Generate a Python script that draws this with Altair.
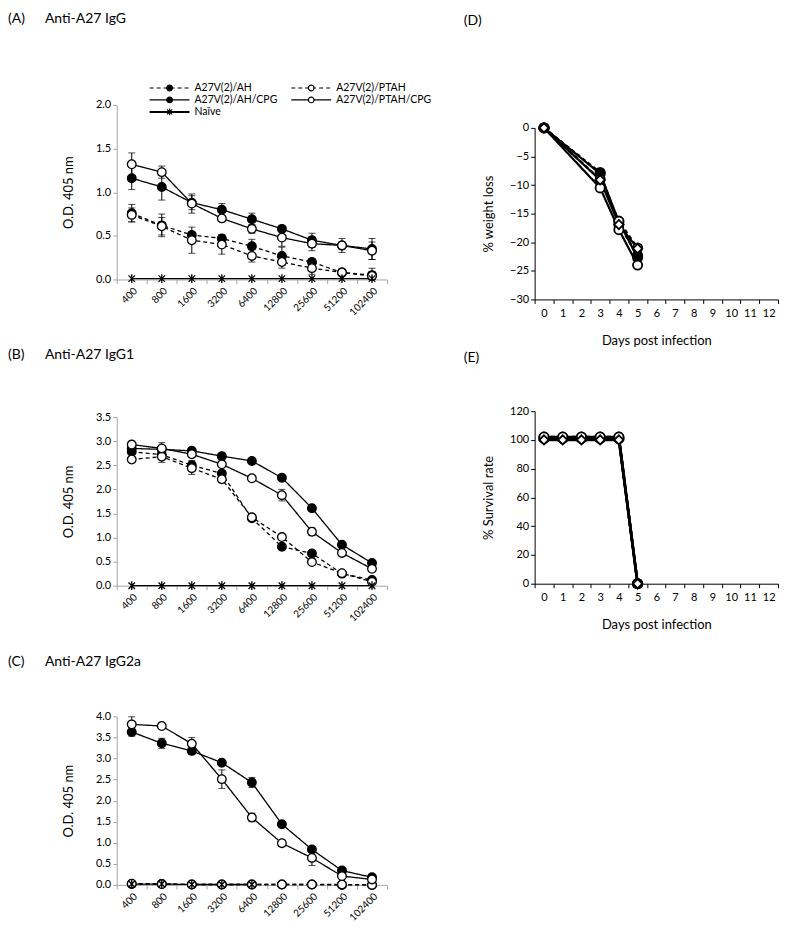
import altair as alt
import pandas as pd

# ---------------- data ----------------
dilutions = ["400", "800", "1600", "3200", "6400", "12800", "25600", "51200", "102400"]
groups = ["A27V(2)/AH", "A27V(2)/AH/CPG", "A27V(2)/PTAH", "A27V(2)/PTAH/CPG", "Naïve"]

# (A) Anti-A27 IgG
igg_ah = [0.76, 0.62, 0.51, 0.47, 0.38, 0.27, 0.20, 0.08, 0.05]
igg_ah_sd = [0.10, 0.13, 0.03, 0.04, 0.08, 0.10, 0.04, 0.03, 0.08]
igg_ahcpg = [1.16, 1.06, 0.88, 0.80, 0.69, 0.58, 0.45, 0.39, 0.35]
igg_ahcpg_sd = [0.13, 0.15, 0.08, 0.07, 0.07, 0.03, 0.08, 0.04, 0.12]
igg_ptah = [0.74, 0.61, 0.45, 0.40, 0.27, 0.20, 0.13, 0.08, 0.04]
igg_ptah_sd = [0.08, 0.10, 0.15, 0.11, 0.07, 0.07, 0.07, 0.04, 0.05]
igg_ptahcpg = [1.32, 1.23, 0.87, 0.70, 0.58, 0.48, 0.41, 0.39, 0.33]
igg_ptahcpg_sd = [0.13, 0.07, 0.11, 0.03, 0.05, 0.10, 0.08, 0.08, 0.10]
igg_naive = [0.01, 0.01, 0.01, 0.01, 0.01, 0.01, 0.01, 0.01, 0.01]
igg_naive_sd = [0, 0, 0, 0, 0, 0, 0, 0, 0]

# (B) Anti-A27 IgG1
igg1_ah = [2.78, 2.72, 2.50, 2.33, 1.40, 0.81, 0.67, 0.25, 0.12]
igg1_ah_sd = [0.05, 0.05, 0.10, 0.05, 0.05, 0.05, 0.05, 0.03, 0.03]
igg1_ahcpg = [2.85, 2.83, 2.80, 2.69, 2.59, 2.24, 1.61, 0.85, 0.47]
igg1_ahcpg_sd = [0.10, 0.08, 0.05, 0.03, 0.03, 0.03, 0.03, 0.04, 0.06]
igg1_ptah = [2.62, 2.68, 2.44, 2.21, 1.42, 1.01, 0.49, 0.26, 0.08]
igg1_ptah_sd = [0.05, 0.12, 0.13, 0.05, 0.05, 0.05, 0.04, 0.04, 0.03]
igg1_ptahcpg = [2.93, 2.85, 2.73, 2.52, 2.23, 1.88, 1.12, 0.68, 0.35]
igg1_ptahcpg_sd = [0.07, 0.12, 0.05, 0.03, 0.03, 0.12, 0.08, 0.04, 0.05]
igg1_naive = [0.0, 0.0, 0.0, 0.0, 0.0, 0.0, 0.0, 0.0, 0.0]
igg1_naive_sd = [0, 0, 0, 0, 0, 0, 0, 0, 0]

# (C) Anti-A27 IgG2a
igg2a_ah = [0.02, 0.02, 0.01, 0.01, 0.01, 0.01, 0.01, 0.0, 0.0]
igg2a_ah_sd = [0, 0, 0, 0, 0, 0, 0, 0, 0]
igg2a_ahcpg = [3.63, 3.36, 3.18, 2.90, 2.43, 1.44, 0.84, 0.34, 0.18]
igg2a_ahcpg_sd = [0.10, 0.12, 0.08, 0.04, 0.12, 0.05, 0.04, 0.03, 0.03]
igg2a_ptah = [0.03, 0.02, 0.01, 0.01, 0.01, 0.01, 0.01, 0.01, 0.0]
igg2a_ptah_sd = [0, 0, 0, 0, 0, 0, 0, 0, 0]
igg2a_ptahcpg = [3.81, 3.77, 3.35, 2.51, 1.60, 0.99, 0.64, 0.21, 0.13]
igg2a_ptahcpg_sd = [0.18, 0.05, 0.15, 0.22, 0.10, 0.07, 0.18, 0.03, 0.03]
igg2a_naive = [0.02, 0.02, 0.01, 0.01, 0.01, None, None, None, None]
igg2a_naive_sd = [0, 0, 0, 0, 0, 0, 0, 0, 0]

# (D) weight loss
day_axis = [0, 1, 2, 3, 4, 5, 6, 7, 8, 9, 10, 11, 12]
weight_days = [0, 3, 4, 5]
w_ah = [0, -7.8, -16.9, -22.3]
w_ahcpg = [0, -8.0, -16.4, -22.7]
w_ptah = [0, -9.0, -16.3, -21.0]
w_ptahcpg = [0, -10.5, -17.8, -24.0]
w_naive = [0, -9.1, -16.9, -21.1]

# (E) survival
surv_days = [0, 1, 2, 3, 4, 5]
s_ah = [101, 101, 101, 101, 101, 0]
s_ahcpg = [101, 101, 101, 101, 101, 0]
s_ptah = [102, 102, 102, 102, 102, 0]
s_ptahcpg = [102, 102, 102, 102, 102, 0]
s_naive = [100, 100, 100, 100, 100, 0]

panel_letters = ["(A)", "(B)", "(C)", "(D)", "(E)"]
panel_names = ["Anti-A27 IgG", "Anti-A27 IgG1", "Anti-A27 IgG2a"]

# ---------------- styles ----------------
FONT = "Lato"
GRAY = "#A6A6A6"
STAR = "M0,-1L0,1M-0.75,-0.75L0.75,0.75M-0.75,0.75L0.75,-0.75"
PW = 271
DW = 244

shape_scale = alt.Scale(domain=groups, range=["circle", "circle", "circle", "circle", STAR])
fill_scale = alt.Scale(domain=groups, range=["black", "black", "white", "white", "black"])
dash_scale = alt.Scale(domain=groups, range=[[4, 3], [1, 0], [4, 3], [1, 0], [1, 0]])
width_scale = alt.Scale(domain=groups, range=[1.3, 1.3, 1.3, 1.3, 2.2])

shape_scale_d = alt.Scale(domain=groups, range=["circle", "circle", "circle", "circle", "diamond"])
fill_scale_d = alt.Scale(domain=groups, range=["black", "black", "white", "white", "white"])
dash_scale_d = alt.Scale(domain=groups, range=[[4, 3], [1, 0], [4, 3], [1, 0], [1, 0]])


def label_layer(text, x, y, size=14):
    return alt.Chart(pd.DataFrame({"t": [text]})).mark_text(
        align="left", baseline="middle", font=FONT, fontSize=size, color="black"
    ).encode(x=alt.value(x), y=alt.value(y), text="t:N")


def elisa_panel(series, sds, ymax, yvals, height, top, letter, name, title_y, legend=False):
    rows = []
    for g in groups:
        for i, (d, v, s) in enumerate(zip(dilutions, series[g], sds[g])):
            if v is None:
                continue
            rows.append({"i": i, "dil": d, "group": g, "value": v, "sd": s,
                         "lo": max(v - s, 0), "hi": v + s})
    df = pd.DataFrame(rows)
    xenc = alt.X("dil:O",
                 scale=alt.Scale(type="band", domain=dilutions, paddingInner=0, paddingOuter=0),
                 axis=alt.Axis(title=None, labelAngle=-45, labelFontSize=10, labelOverlap=False,
                               tickBand="extent", domainColor=GRAY, tickColor=GRAY, tickSize=4,
                               labelPadding=2, labelColor="#000000", labelFont=FONT))
    ysc = alt.Scale(domain=[0, ymax], range=[height, top], nice=False)
    yax = alt.Axis(title="O.D. 405 nm", values=yvals, format=".1f", labelFontSize=11,
                   titleFontSize=13, titleFontWeight="normal", domainColor=GRAY, tickColor=GRAY,
                   tickSize=4, titlePadding=20, labelColor="#000000", titleColor="#000000",
                   labelFont=FONT, titleFont=FONT)

    def Y(f):
        return alt.Y(f"{f}:Q", scale=ysc, axis=yax)

    base = alt.Chart(df)
    err = base.transform_filter("datum.sd > 0").mark_rule(color="black", strokeWidth=1).encode(
        x=xenc, y=Y("lo"), y2="hi:Q")
    cap_hi = base.transform_filter("datum.sd > 0").mark_tick(color="black", thickness=1, size=7).encode(
        x=xenc, y=Y("hi"))
    cap_lo = base.transform_filter("datum.sd > 0").mark_tick(color="black", thickness=1, size=7).encode(
        x=xenc, y=Y("lo"))
    line = base.mark_line(color="black").encode(
        x=xenc, y=Y("value"), detail="group:N", order="i:Q",
        strokeDash=alt.StrokeDash("group:N", scale=dash_scale, legend=None),
        strokeWidth=alt.StrokeWidth("group:N", scale=width_scale, legend=None))
    pts = base.mark_point(filled=True, stroke="black", strokeWidth=1.3, size=75, opacity=1).encode(
        x=xenc, y=Y("value"),
        shape=alt.Shape("group:N", scale=shape_scale, legend=None),
        fill=alt.Fill("group:N", scale=fill_scale, legend=None))
    layers = [err, cap_hi, cap_lo, line, pts,
              label_layer(letter, -109, title_y),
              label_layer(name, -72, title_y)]
    if legend:
        pos = {groups[0]: (33, -17), groups[1]: (33, -5), groups[4]: (33, 7),
               groups[2]: (175, -17), groups[3]: (175, -5)}
        dashes = dict(zip(groups, [[4, 3], [1, 0], [4, 3], [1, 0], [1, 0]]))
        widths = dict(zip(groups, [1.2, 1.2, 1.2, 1.2, 2.0]))
        shapes = dict(zip(groups, ["circle", "circle", "circle", "circle", STAR]))
        fills = dict(zip(groups, ["black", "black", "white", "white", "black"]))
        for g in groups:
            lx, ly = pos[g]
            ldf = pd.DataFrame({"g": [g]})
            layers.append(alt.Chart(ldf).mark_rule(color="black", strokeDash=dashes[g],
                                                   strokeWidth=widths[g]).encode(
                x=alt.value(lx), x2=alt.value(lx + 40), y=alt.value(ly)))
            layers.append(alt.Chart(ldf).mark_point(shape=shapes[g], filled=True, fill=fills[g],
                                                    stroke="black", strokeWidth=1.2, opacity=1,
                                                    size=32 if g != groups[4] else 45).encode(
                x=alt.value(lx + 20), y=alt.value(ly)))
            layers.append(alt.Chart(ldf).mark_text(align="left", baseline="middle", font=FONT,
                                                   fontSize=10.5, color="black").encode(
                x=alt.value(lx + 45), y=alt.value(ly), text="g:N"))
    return alt.layer(*layers).properties(width=PW, height=height)


def day_panel(series, days, ymin, ymax, yvals, height, top, ytitle, letter, title_y, lw, msize):
    rows = []
    for g in groups:
        for i, (d, v) in enumerate(zip(days, series[g])):
            rows.append({"i": i, "day": d, "group": g, "value": v})
    df = pd.DataFrame(rows)
    xenc = alt.X("day:O",
                 scale=alt.Scale(type="band", domain=day_axis, paddingInner=0, paddingOuter=0),
                 axis=alt.Axis(title="Days post infection", labelAngle=0, labelFontSize=11,
                               titleFontSize=13, titleFontWeight="normal", tickBand="extent",
                               domainColor="black", tickColor="black", tickSize=4, labelPadding=4,
                               titlePadding=16, labelColor="black", titleColor="black",
                               labelFont=FONT, titleFont=FONT, labelOverlap=False))
    yenc = alt.Y("value:Q", scale=alt.Scale(domain=[ymin, ymax], range=[height, top], nice=False),
                 axis=alt.Axis(title=ytitle, values=yvals, labelFontSize=11, titleFontSize=13,
                               titleFontWeight="normal", domainColor="black", tickColor="black",
                               tickSize=4, titlePadding=14, labelColor="black", titleColor="black",
                               labelFont=FONT, titleFont=FONT))
    base = alt.Chart(df)
    line = base.mark_line(color="black", strokeWidth=lw).encode(
        x=xenc, y=yenc, detail="group:N", order="i:Q",
        strokeDash=alt.StrokeDash("group:N", scale=dash_scale_d, legend=None))
    pts = base.mark_point(filled=True, stroke="black", strokeWidth=1.8, size=msize, opacity=1).encode(
        x=xenc, y=yenc,
        shape=alt.Shape("group:N", scale=shape_scale_d, legend=None),
        fill=alt.Fill("group:N", scale=fill_scale_d, legend=None))
    return alt.layer(line, pts, label_layer(letter, -71, title_y, size=14)
                     ).properties(width=DW, height=height)


panel_a = elisa_panel(
    dict(zip(groups, [igg_ah, igg_ahcpg, igg_ptah, igg_ptahcpg, igg_naive])),
    dict(zip(groups, [igg_ah_sd, igg_ahcpg_sd, igg_ptah_sd, igg_ptahcpg_sd, igg_naive_sd])),
    2.0, [0, 0.5, 1.0, 1.5, 2.0], 175, 0, panel_letters[0], panel_names[0], -86, legend=True)
panel_b = elisa_panel(
    dict(zip(groups, [igg1_ah, igg1_ahcpg, igg1_ptah, igg1_ptahcpg, igg1_naive])),
    dict(zip(groups, [igg1_ah_sd, igg1_ahcpg_sd, igg1_ptah_sd, igg1_ptahcpg_sd, igg1_naive_sd])),
    3.5, [0, 0.5, 1.0, 1.5, 2.0, 2.5, 3.0, 3.5], 181, 12, panel_letters[1], panel_names[1], -50)
panel_c = elisa_panel(
    dict(zip(groups, [igg2a_ah, igg2a_ahcpg, igg2a_ptah, igg2a_ptahcpg, igg2a_naive])),
    dict(zip(groups, [igg2a_ah_sd, igg2a_ahcpg_sd, igg2a_ptah_sd, igg2a_ptahcpg_sd, igg2a_naive_sd])),
    4.0, [0, 0.5, 1.0, 1.5, 2.0, 2.5, 3.0, 3.5, 4.0], 194, 25, panel_letters[2], panel_names[2], -29)

panel_d = day_panel(dict(zip(groups, [w_ah, w_ahcpg, w_ptah, w_ptahcpg, w_naive])), weight_days,
                    -30, 0, [-30, -25, -20, -15, -10, -5, 0], 195, 23, "% weight loss",
                    panel_letters[3], -84, 2.2, 85)
panel_e = day_panel(dict(zip(groups, [s_ah, s_ahcpg, s_ptah, s_ptahcpg, s_naive])), surv_days,
                    0, 120, [0, 20, 40, 60, 80, 100, 120], 179, 6, "% Survival rate",
                    panel_letters[4], -47, 2.6, 85)

chart = alt.ConcatChart(
    concat=[panel_a, panel_d, panel_b, panel_e, panel_c],
    columns=2, spacing={"row": 106, "column": 148}, bounds="flush", align="each",
).resolve_scale(
    shape="independent", fill="independent", strokeDash="independent", strokeWidth="independent"
).properties(
    padding={"top": 3, "left": 0, "right": 0, "bottom": 0}
).configure_view(stroke=None).configure_axis(grid=False)

chart.save("out.html", embed_options={"renderer": "svg", "actions": False})
